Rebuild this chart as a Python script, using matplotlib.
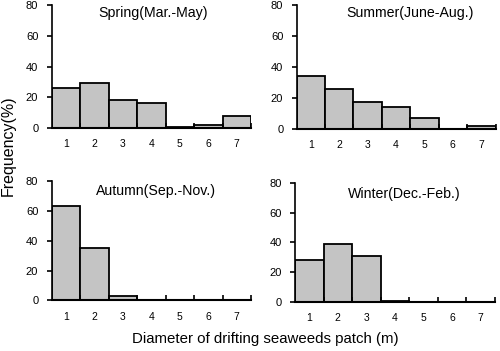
import matplotlib
matplotlib.use("Agg")
import matplotlib.pyplot as plt
import numpy as np

plt.rcParams['font.family'] = ['Liberation Sans', 'DejaVu Sans']

sizes = [1, 2, 3, 4, 5, 6, 7]
tick_labels = ['1', '2', '3', '4', '5', '6', '7']
spring = [26, 29, 18, 16, 1, 2, 8]
summer = [34, 26, 17, 14, 7, 0, 1.5]
autumn = [63, 35, 3, 0, 0, 0, 0]
winter = [28, 39, 31, 0.7, 0, 0, 0]
titles = ['Spring(Mar.-May)', 'Summer(June-Aug.)', 'Autumn(Sep.-Nov.)', 'Winter(Dec.-Feb.)']
yticks = [0, 20, 40, 60, 80]

fig = plt.figure(figsize=(5.0, 3.51), dpi=100)
positions = [
    [0.103, 0.635, 0.399, 0.351],
    [0.593, 0.633, 0.398, 0.353],
    [0.103, 0.144, 0.399, 0.340],
    [0.590, 0.140, 0.400, 0.339],
]
data = [spring, summer, autumn, winter]
title_pos = [(0.508, 0.935), (0.568, 0.935), (0.526, 0.919), (0.548, 0.907)]

for pos, vals, title, tp in zip(positions, data, titles, title_pos):
    ax = fig.add_axes(pos)
    ax.bar(sizes, vals, width=1.0, color='#c4c4c4', edgecolor='black', linewidth=1.3)
    ax.set_xlim(0.5, 7.5)
    ax.set_ylim(0, 80)
    ax.spines['top'].set_visible(False)
    ax.spines['right'].set_visible(False)
    ax.spines['left'].set_linewidth(1.2)
    ax.spines['bottom'].set_linewidth(1.5)
    ax.set_yticks(yticks)
    ax.set_yticklabels([str(v) for v in yticks])
    ax.set_xticks(sizes)
    ax.set_xticklabels(tick_labels)
    ax.set_xticks(np.arange(1.5, 8.0, 1.0), minor=True)
    ax.tick_params(axis='x', which='major', length=0, pad=8, labelsize=7.5)
    ax.tick_params(axis='x', which='minor', direction='in', length=3.5, width=1.2)
    ax.tick_params(axis='y', which='major', direction='out', length=3.5, width=1.2, pad=6, labelsize=8)
    ax.text(tp[0], tp[1], title, transform=ax.transAxes, ha='center', va='center', fontsize=10.2)

fig.text(0.016, 0.584, 'Frequency(%)', rotation=90, ha='center', va='center', fontsize=11.5)
fig.text(0.53, 0.034, 'Diameter of drifting seaweeds patch (m)', ha='center', va='center', fontsize=10.8)

fig.savefig('out.png', dpi=100)
